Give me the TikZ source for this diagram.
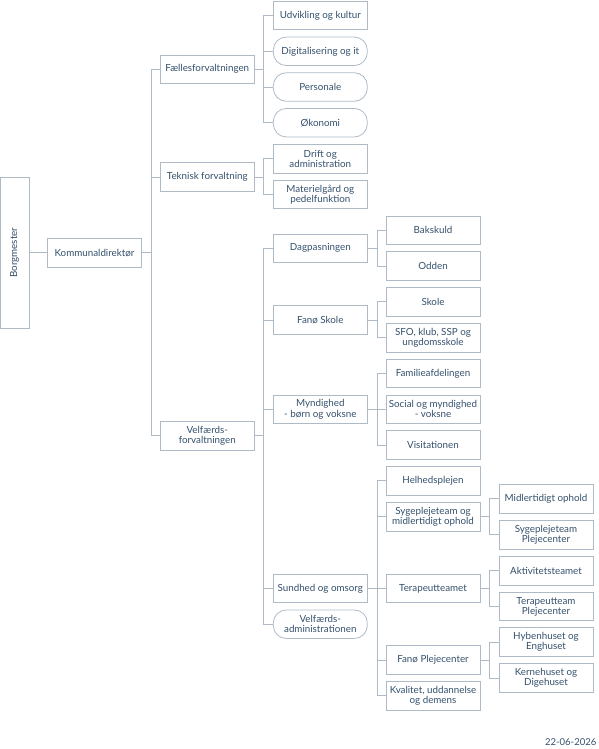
\documentclass[tikz,border=0pt]{standalone}
\usepackage{fontspec}
\setmainfont{Lato}
\definecolor{ln}{HTML}{AEBBC7}
\definecolor{tx}{HTML}{34506C}
\begin{document}
\begin{tikzpicture}[x=1pt,y=-1pt,
  every node/.style={font=\fontsize{9.8}{10.2}\selectfont, text=tx, inner sep=0pt, align=center},
  box/.style={draw=ln, line width=0.8pt, rectangle, minimum width=94pt, minimum height=28.5pt},
  pill/.style={box, rounded corners=13pt},
  conn/.style={draw=ln, line width=0.8pt},
]
\useasboundingbox (0,0) rectangle (598,749);
% level 0
\node[box, minimum width=29pt, minimum height=150.7pt] (borg) at (14.5,252.7) {\rotatebox{90}{Borgmester}};
\node[box] (kd) at (94.5,252.7) {Kommunaldirektør};
% level 1
\node[box] (fael) at (207.3,69.2) {Fællesforvaltningen};
\node[box] (tek) at (207.3,176.9) {Teknisk forvaltning};
\node[box] (velf) at (207.3,435.8) {Velfærds-\\forvaltningen};
% level 2 under Fælles
\node[box] (udv) at (320.3,15.4) {Udvikling og kultur};
\node[pill] (dig) at (320.3,51.3) {Digitalisering og it};
\node[pill] (pers) at (320.3,87) {Personale};
\node[pill] (oko) at (320.3,122.7) {Økonomi};
% level 2 under Teknisk
\node[box] (drift) at (320.3,158.7) {Drift og\\administration};
\node[box] (mat) at (320.3,194.5) {Materielgård og\\pedelfunktion};
% level 2 under Velfærd
\node[box] (dag) at (320.3,248.2) {Dagpasningen};
\node[box] (fskole) at (320.3,320) {Fanø Skole};
\node[box] (myn) at (320.3,409.2) {Myndighed\\- børn og voksne};
\node[box] (sund) at (320.3,588.5) {Sundhed og omsorg};
\node[pill] (vadm) at (320.3,624.2) {Velfærds-\\administrationen};
% level 3
\node[box] (bak) at (433,230.2) {Bakskuld};
\node[box] (odd) at (433,266) {Odden};
\node[box] (skole) at (433,301.8) {Skole};
\node[box] (sfo) at (433,337.7) {SFO, klub, SSP og\\ungdomsskole};
\node[box] (fam) at (433,373.5) {Familieafdelingen};
\node[box] (soc) at (433,409.2) {Social og myndighed\\- voksne};
\node[box] (vis) at (433,445) {Visitationen};
\node[box] (hel) at (433,480.8) {Helhedsplejen};
\node[box] (syg) at (433,516.7) {Sygeplejeteam og\\midlertidigt ophold};
\node[box] (ter) at (433,588.5) {Terapeutteamet};
\node[box] (fpl) at (433,660) {Fanø Plejecenter};
\node[box] (kval) at (433,695.7) {Kvalitet, uddannelse\\og demens};
% level 4
\node[box] (mid) at (546,498.7) {Midlertidigt ophold};
\node[box] (sygp) at (546,534.7) {Sygeplejeteam\\Plejecenter};
\node[box] (akt) at (546,570.7) {Aktivitetsteamet};
\node[box] (terp) at (546,606.5) {Terapeutteam\\Plejecenter};
\node[box] (hyb) at (546,642) {Hybenhuset og\\Enghuset};
\node[box] (ker) at (546,678) {Kernehuset og\\Digehuset};
% date
\node[anchor=east, font=\fontsize{9.5}{10}\selectfont] (date) at (596.5,742) {22-06-2026};
% connectors
\draw[conn] (borg.east |- kd.west) -- (kd.west);
\foreach \c in {fael,tek,velf} \draw[conn] (kd.east) -- ++(9.3,0) |- (\c.west);
\foreach \c in {udv,dig,pers,oko} \draw[conn] (fael.east) -- ++(9,0) |- (\c.west);
\foreach \c in {drift,mat} \draw[conn] (tek.east) -- ++(9,0) |- (\c.west);
\foreach \c in {dag,fskole,myn,sund,vadm} \draw[conn] (velf.east) -- ++(9,0) |- (\c.west);
\foreach \c in {bak,odd} \draw[conn] (dag.east) -- ++(9.4,0) |- (\c.west);
\foreach \c in {skole,sfo} \draw[conn] (fskole.east) -- ++(9.4,0) |- (\c.west);
\foreach \c in {fam,soc,vis} \draw[conn] (myn.east) -- ++(9.4,0) |- (\c.west);
\foreach \c in {hel,syg,ter,fpl,kval} \draw[conn] (sund.east) -- ++(9.4,0) |- (\c.west);
\foreach \c in {mid,sygp} \draw[conn] (syg.east) -- ++(9,0) |- (\c.west);
\foreach \c in {akt,terp} \draw[conn] (ter.east) -- ++(9,0) |- (\c.west);
\foreach \c in {hyb,ker} \draw[conn] (fpl.east) -- ++(9,0) |- (\c.west);
\end{tikzpicture}
\end{document}
